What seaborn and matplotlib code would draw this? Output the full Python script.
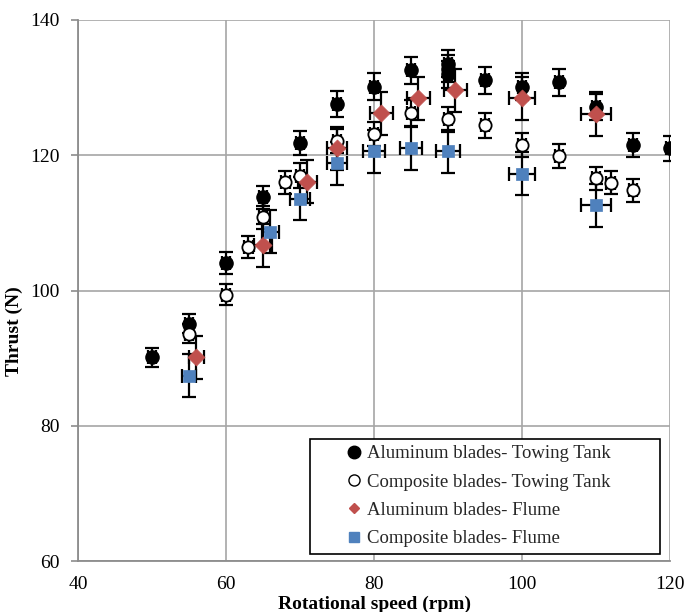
import numpy as np
import pandas as pd
import matplotlib
matplotlib.use("Agg")
import matplotlib.pyplot as plt
import seaborn as sns
from matplotlib.lines import Line2D

# ---------------- data ----------------
al_tt_rpm = [50, 55, 60, 65, 70, 75, 80, 85, 90, 90, 90, 95, 100, 105, 110, 115, 120]
al_tt_thrust = [90.1, 95.1, 104.1, 113.8, 121.8, 127.6, 130.1, 132.6, 133.5, 132.8, 132.0,
                131.1, 130.1, 130.8, 127.1, 121.5, 121.0]
al_tt_yerr = [1.4, 1.4, 1.6, 1.7, 1.8, 1.9, 2.0, 2.0, 2.0, 2.0, 2.0, 2.0, 2.0, 2.0, 1.9, 1.8, 1.8]

co_tt_rpm = [55, 60, 63, 65, 68, 70, 75, 80, 85, 90, 95, 100, 105, 110, 112, 115]
co_tt_thrust = [93.6, 99.4, 106.4, 110.8, 116.0, 117.0, 122.1, 123.1, 126.2, 125.3, 124.4,
                121.5, 119.9, 116.6, 115.9, 114.8]
co_tt_yerr = [1.4, 1.5, 1.6, 1.7, 1.7, 1.8, 1.8, 1.8, 1.9, 1.9, 1.9, 1.8, 1.8, 1.7, 1.7, 1.7]

al_fl_rpm = [56, 65, 71, 75, 81, 86, 91, 100, 110]
al_fl_thrust = [90.1, 106.7, 116.1, 121.0, 126.2, 128.4, 129.6, 128.4, 126.1]
al_fl_xerr = [1.0, 1.2, 1.3, 1.4, 1.5, 1.5, 1.6, 1.8, 2.0]
al_fl_yerr = [3.2, 3.2, 3.2, 3.2, 3.2, 3.2, 3.2, 3.2, 3.2]

co_fl_rpm = [55, 66, 70, 75, 80, 85, 90, 100, 110]
co_fl_thrust = [87.4, 108.7, 113.6, 118.8, 120.6, 121.0, 120.6, 117.3, 112.6]
co_fl_xerr = [1.0, 1.2, 1.3, 1.4, 1.5, 1.5, 1.6, 1.8, 2.0]
co_fl_yerr = [3.2, 3.2, 3.2, 3.2, 3.2, 3.2, 3.2, 3.2, 3.2]

labels = ["Aluminum blades- Towing Tank", "Composite blades- Towing Tank",
          "Aluminum blades- Flume", "Composite blades- Flume"]

x_ticks = [40, 60, 80, 100, 120]
y_ticks = [60, 80, 100, 120, 140]

# ---------------- style ----------------
sns.set_theme(style="whitegrid")
plt.rcParams["font.family"] = ["Liberation Serif", "DejaVu Serif"]

RED = "#C0504D"
BLUE = "#4F81BD"
GRID = "#A6A6A6"

fig = plt.figure(figsize=(6.88, 6.12), dpi=100)
ax = fig.add_axes([78 / 688, 1 - 561 / 612, 592 / 688, 541 / 612])

eb_kw = dict(fmt="none", ecolor="black", elinewidth=1.6, capsize=5, capthick=1.6, zorder=2)

ax.errorbar(al_tt_rpm, al_tt_thrust, yerr=al_tt_yerr, xerr=0.6, **eb_kw)
ax.errorbar(co_tt_rpm, co_tt_thrust, yerr=co_tt_yerr, xerr=0.6, **eb_kw)
ax.errorbar(al_fl_rpm, al_fl_thrust, yerr=al_fl_yerr, xerr=al_fl_xerr, **eb_kw)
ax.errorbar(co_fl_rpm, co_fl_thrust, yerr=co_fl_yerr, xerr=co_fl_xerr, **eb_kw)

df_a = pd.DataFrame({"rpm": al_tt_rpm, "thrust": al_tt_thrust})
df_b = pd.DataFrame({"rpm": co_tt_rpm, "thrust": co_tt_thrust})
df_c = pd.DataFrame({"rpm": al_fl_rpm, "thrust": al_fl_thrust})
df_d = pd.DataFrame({"rpm": co_fl_rpm, "thrust": co_fl_thrust})

sns.scatterplot(data=df_a, x="rpm", y="thrust", ax=ax, marker="o", s=90,
                color="black", edgecolor="black", linewidth=1, zorder=3, legend=False)
sns.scatterplot(data=df_b, x="rpm", y="thrust", ax=ax, marker="o", s=78,
                color="white", edgecolor="black", linewidth=1.3, zorder=3, legend=False)
sns.scatterplot(data=df_c, x="rpm", y="thrust", ax=ax, marker="D", s=75,
                color=RED, edgecolor=RED, linewidth=0.5, zorder=4, legend=False)
sns.scatterplot(data=df_d, x="rpm", y="thrust", ax=ax, marker="s", s=68,
                color=BLUE, edgecolor=BLUE, linewidth=0.5, zorder=4, legend=False)

ax.set_xlim(40, 120)
ax.set_ylim(60, 140)
ax.set_xticks(x_ticks)
ax.set_yticks(y_ticks)
ax.grid(True, color=GRID, linewidth=1.2)
for side in ["top", "right"]:
    ax.spines[side].set_visible(False)
for side in ["left", "bottom"]:
    ax.spines[side].set_color("#8C8C8C")
    ax.spines[side].set_linewidth(1.3)

ax.tick_params(axis="y", which="major", direction="out", length=5, width=1.2,
               color="#8C8C8C", left=True, labelsize=14, pad=8, labelcolor="black")
ax.tick_params(axis="x", which="major", length=0, labelsize=14, pad=11, labelcolor="black")

ax.set_xlabel("Rotational speed (rpm)", fontsize=14, fontweight="bold", color="black")
ax.set_ylabel("Thrust (N)", fontsize=14, fontweight="bold", color="black")
ax.xaxis.set_label_coords(0.5, -0.064)
ax.yaxis.set_label_coords(-0.093, 0.425)

handles = [
    Line2D([], [], linestyle="none", marker="o", markersize=9, markerfacecolor="black",
           markeredgecolor="black"),
    Line2D([], [], linestyle="none", marker="o", markersize=8, markerfacecolor="white",
           markeredgecolor="black", markeredgewidth=1.0),
    Line2D([], [], linestyle="none", marker="D", markersize=5.5, markerfacecolor=RED,
           markeredgecolor=RED),
    Line2D([], [], linestyle="none", marker="s", markersize=7.5, markerfacecolor=BLUE,
           markeredgecolor=BLUE),
]
leg = ax.legend(handles, labels, loc="lower left",
                bbox_to_anchor=(0.392, 0.013, 0.591, 0.222), mode="expand",
                fontsize=13.5, frameon=True, fancybox=False, edgecolor="black",
                framealpha=1, handlelength=4.0, handletextpad=-1.3,
                labelspacing=0.6, borderpad=0.35, borderaxespad=0)
leg.get_frame().set_linewidth(1.2)
leg.set_zorder(10)

fig.savefig("out.png", dpi=100)
